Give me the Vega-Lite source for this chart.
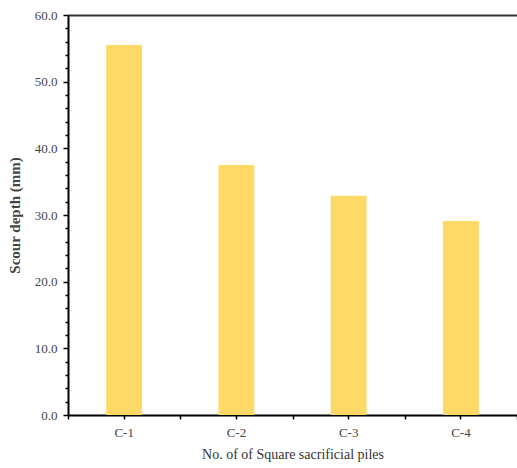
{
  "$schema": "https://vega.github.io/schema/vega-lite/v6.json",
  "autosize": {"type": "none"},
  "padding": {"left": 68, "top": 15, "right": 0, "bottom": 53},
  "width": 449,
  "height": 400,
  "background": "white",
  "config": {
    "view": {"stroke": null},
    "font": "Liberation Serif"
  },
  "data": {
    "values": [
      {"pile": "C-1", "depth": 55.5},
      {"pile": "C-2", "depth": 37.5},
      {"pile": "C-3", "depth": 32.9},
      {"pile": "C-4", "depth": 29.1}
    ]
  },
  "resolve": {"axis": {"x": "independent", "y": "independent"}},
  "layer": [
    {
      "mark": {"type": "bar", "color": "#FFD966", "width": {"band": 0.32}},
      "encoding": {
        "x": {
          "field": "pile",
          "type": "nominal",
          "scale": {"paddingInner": 0, "paddingOuter": 0},
          "axis": {
            "orient": "bottom",
            "title": "No. of of Square sacrificial piles",
            "titleFont": "Liberation Serif",
            "titleFontSize": 14,
            "titleFontWeight": "normal",
            "titleColor": "#333333",
            "titlePadding": 8,
            "labelFont": "Liberation Serif",
            "labelFontSize": 13,
            "labelColor": "#444444",
            "labelAngle": 0,
            "labelPadding": 7,
            "domainColor": "#000000",
            "domainWidth": 2,
            "tickColor": "#000000",
            "tickWidth": 1.5,
            "tickSize": 4,
            "grid": false
          }
        },
        "y": {
          "field": "depth",
          "type": "quantitative",
          "scale": {"domain": [0, 60], "nice": false},
          "axis": {
            "orient": "left",
            "title": "Scour depth (mm)",
            "titleFont": "Liberation Serif",
            "titleFontSize": 15,
            "titleFontWeight": "bold",
            "titleColor": "#444444",
            "titlePadding": 12,
            "values": [0,2,4,6,8,10,12,14,16,18,20,22,24,26,28,30,32,34,36,38,40,42,44,46,48,50,52,54,56,58,60],
            "labelExpr": "datum.value % 10 === 0 ? format(datum.value, '.1f') : ''",
            "labelOverlap": false,
            "labelFont": "Liberation Serif",
            "labelFontSize": 13,
            "labelColor": "#444444",
            "labelPadding": 6,
            "domainColor": "#000000",
            "domainWidth": 2,
            "tickColor": "#000000",
            "tickWidth": 1.5,
            "tickSize": {"condition": {"test": "datum.value % 10 === 0", "value": 5}, "value": 3},
            "grid": false
          }
        }
      }
    },
    {
      "mark": {"type": "bar", "opacity": 0},
      "encoding": {
        "x": {
          "field": "pile",
          "type": "nominal",
          "axis": {
            "orient": "bottom",
            "title": null,
            "labels": false,
            "domain": false,
            "tickBand": "extent",
            "tickColor": "#000000",
            "tickWidth": 1.5,
            "tickSize": 4,
            "grid": false
          }
        },
        "y": {"field": "depth", "type": "quantitative", "axis": null}
      }
    },
    {
      "mark": {"type": "bar", "opacity": 0},
      "encoding": {
        "x": {
          "field": "pile",
          "type": "nominal",
          "axis": {
            "orient": "top",
            "title": null,
            "labels": false,
            "ticks": false,
            "domain": true,
            "domainColor": "#333333",
            "domainWidth": 2,
            "grid": false
          }
        },
        "y": {"field": "depth", "type": "quantitative", "axis": null}
      }
    }
  ]
}
